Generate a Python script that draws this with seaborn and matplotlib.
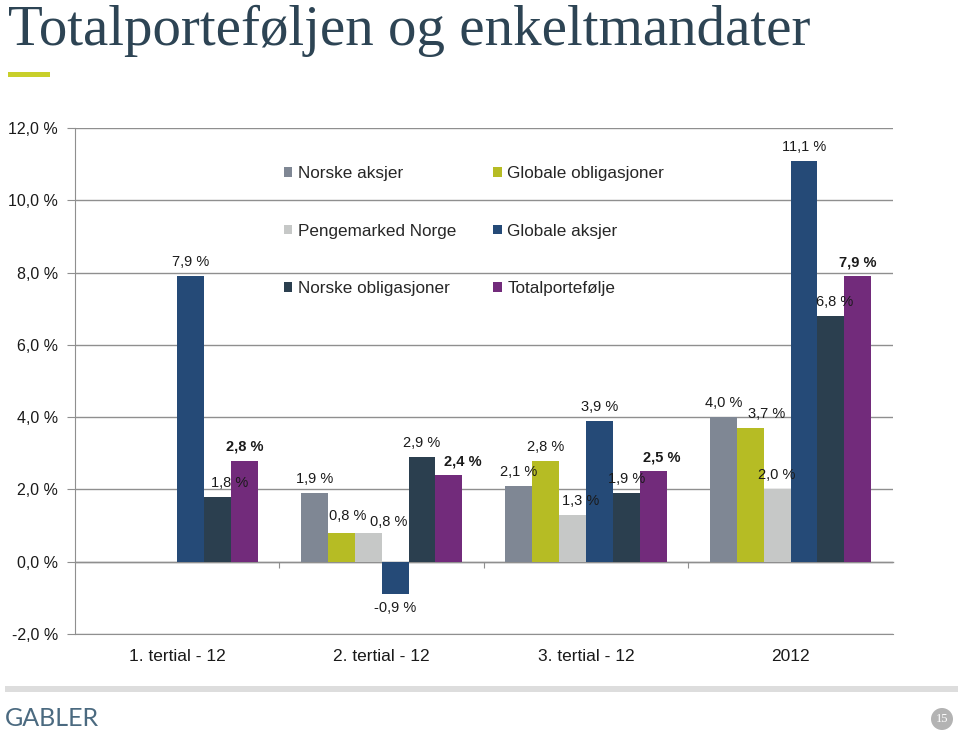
import numpy as np
import pandas as pd
import matplotlib
matplotlib.use('Agg')
import matplotlib.pyplot as plt
import seaborn as sns
from matplotlib.patches import Rectangle, Circle
from matplotlib.ticker import FuncFormatter

# data (percent)
categories = ['1. tertial - 12', '2. tertial - 12', '3. tertial - 12', '2012']
series = ['Norske aksjer', 'Globale obligasjoner', 'Pengemarked Norge',
          'Globale aksjer', 'Norske obligasjoner', 'Totalportefølje']
norske_aksjer = [np.nan, 1.9, 2.1, 4.0]
globale_obligasjoner = [np.nan, 0.8, 2.8, 3.7]
pengemarked_norge = [np.nan, 0.8, 1.3, 2.0]
globale_aksjer = [7.9, -0.9, 3.9, 11.1]
norske_obligasjoner = [1.8, 2.9, 1.9, 6.8]
totalportefolje = [2.8, 2.4, 2.5, 7.9]
y_ticks = [-2, 0, 2, 4, 6, 8, 10, 12]

colors = ['#7f8794', '#b6bc24', '#c6c8c7', '#254a77', '#2b3f4f', '#722b7b']
grid_col = '#8f8f8f'

# label nudges (points) so crowded labels sit like in the slide
nudge = {
    ('Norske obligasjoner', 0): (9, 0),
    ('Globale obligasjoner', 1): (5, 2),
    ('Pengemarked Norge', 1): (15, -2),
    ('Totalportefølje', 1): (10, 0),
    ('Pengemarked Norge', 2): (6, 0),
    ('Totalportefølje', 2): (6, 0),
    ('Globale obligasjoner', 3): (12, 0),
    ('Norske obligasjoner', 3): (3, 0),
}

values = [norske_aksjer, globale_obligasjoner, pengemarked_norge,
          globale_aksjer, norske_obligasjoner, totalportefolje]
rows = []
for name, vals in zip(series, values):
    for cat, v in zip(categories, vals):
        rows.append({'periode': cat, 'aktiva': name, 'avkastning': v})
df = pd.DataFrame(rows)

sns.set_style('white')
plt.rcParams['font.family'] = ['Liberation Sans', 'DejaVu Sans']


def pct(v):
    return f'{v:.1f}'.replace('.', ',') + ' %'


fig = plt.figure(figsize=(9.6, 7.32), dpi=100)
ax = fig.add_axes([0.078, 0.1339, 0.852, 0.6912])

sns.barplot(data=df, x='periode', y='avkastning', hue='aktiva',
            order=categories, hue_order=series, palette=colors,
            width=0.79, saturation=1, linewidth=0, errorbar=None, ax=ax)

for name, cont in zip(series, ax.containers):
    for bar in cont:
        h = bar.get_height()
        cx = bar.get_x() + bar.get_width() / 2
        cat_idx = int(round(cx))
        dx, dy = nudge.get((name, cat_idx), (0, 0))
        ax.annotate(pct(h), (cx, h), xytext=(dx, (5 if h >= 0 else -5) + dy),
                    textcoords='offset points', ha='center',
                    va='bottom' if h >= 0 else 'top', fontsize=10.5,
                    color='#1a1a1a',
                    fontweight='bold' if name == 'Totalportefølje' else 'normal')

ax.set_ylim(y_ticks[0], y_ticks[-1])
ax.set_yticks(y_ticks)
ax.yaxis.set_major_formatter(FuncFormatter(lambda v, p: pct(v)))
ax.yaxis.grid(True, color=grid_col, lw=1)
ax.set_axisbelow(True)
ax.set_xlabel('')
ax.set_ylabel('')

for s in ['top', 'right']:
    ax.spines[s].set_visible(False)
ax.spines['left'].set_color(grid_col)
ax.spines['bottom'].set_color(grid_col)
ax.tick_params(axis='y', left=True, length=6, color=grid_col, pad=6,
               labelsize=11.5, labelcolor='#1a1a1a')
ax.tick_params(axis='x', bottom=False, length=0, pad=11, labelsize=12.5,
               labelcolor='#1a1a1a')

# zero line with category separators
zero_loc = (0 - y_ticks[0]) / (y_ticks[-1] - y_ticks[0])
sec = ax.secondary_xaxis(zero_loc)
sec.set_xticks([i + 0.5 for i in range(len(categories) - 1)])
sec.tick_params(length=4, color=grid_col, labelbottom=False, labeltop=False)
sec.spines['bottom'].set_color(grid_col)
sec.spines['bottom'].set_linewidth(1)

# legend: three rows, two columns, no frame
handles, labels = ax.get_legend_handles_labels()
order = [0, 2, 4, 1, 3, 5]
ax.legend([handles[i] for i in order], [labels[i] for i in order], ncol=2,
          loc='upper left', bbox_to_anchor=(0.2555, 0.925), frameon=False,
          fontsize=12.3, labelspacing=2.5, columnspacing=2.2,
          handlelength=0.5, handleheight=0.5, handletextpad=0.3,
          borderpad=0, borderaxespad=0)

# slide decoration
fig.text(8 / 960, 1 - 45 / 732, 'Totalporteføljen og enkeltmandater',
         family=['Liberation Serif', 'DejaVu Serif'], fontsize=41,
         color='#2d4454', va='baseline', ha='left')
fig.add_artist(Rectangle((8 / 960, 1 - 77 / 732), 42 / 960, 5 / 732,
                         transform=fig.transFigure, color='#c8cf2a', lw=0))
fig.add_artist(Rectangle((5 / 960, 1 - 692 / 732), 953 / 960, 6 / 732,
                         transform=fig.transFigure, color='#dddddd', lw=0))
fig.text(5 / 960, 1 - 718 / 732, 'GABLER', family=['Lato', 'DejaVu Sans'],
         fontsize=18, color='#4b6a80', va='center', ha='left')
fig.add_artist(Circle((9.42, (732 - 719) / 100), 0.11,
                      transform=fig.dpi_scale_trans, color='#b3b3b3', lw=0))
fig.text(942 / 960, 1 - 719 / 732, '15', fontsize=9, color='white',
         family=['Liberation Serif', 'DejaVu Serif'],
         ha='center', va='center')

fig.savefig('out.png', dpi=100)
